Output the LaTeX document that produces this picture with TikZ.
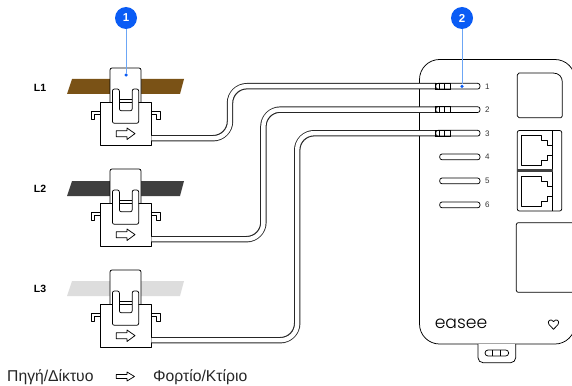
\documentclass[tikz,border=0pt]{standalone}
\usepackage{fontspec}
\setmainfont{Liberation Sans}
\newfontfamily\logofont{Poppins Light}
\tikzset{
  ln/.style={draw=black,line width=0.75pt,fill=white,line join=round},
  lnr/.style={ln,rounded corners=2pt},
  cableo/.style={line width=6.4pt,draw=black!85,rounded corners=17pt},
  cablei/.style={line width=4.4pt,draw=white,rounded corners=16.5pt},
  badge/.style={circle,fill=callblue,inner sep=0pt,minimum size=22pt,text=white,font=\bfseries\fontsize{11.5}{12}\selectfont},
  callline/.style={draw=calllight,line width=1pt},
  calldot/.style={circle,fill=callblue,inner sep=0pt,minimum size=3.5pt},
  phase/.style={font=\bfseries\fontsize{10.5}{11}\selectfont},
  portnum/.style={font=\fontsize{8}{9}\selectfont,text=black!80},
  caption/.style={font=\fontsize{15.7}{16}\selectfont,text=black!85,anchor=west,inner sep=0pt}
}
\definecolor{callblue}{HTML}{0A5CF5}
\definecolor{calllight}{HTML}{6CA6F5}
\definecolor{barA}{HTML}{7A5216}
\definecolor{barB}{HTML}{3F3F3F}
\definecolor{barC}{HTML}{DDDDDD}
\begin{document}
\begin{tikzpicture}[x=1pt,y=-1pt]
\useasboundingbox (0,0) rectangle (572,385);
\fill[white] (0,0) rectangle (572,385);
\clip (0,0) rectangle (572,385);
% bars
\fill[barA] (72,79) -- (184,79) -- (180,94) -- (67,94) -- cycle;
\fill[barB] (72,181) -- (184,181) -- (180,196) -- (67,196) -- cycle;
\fill[barC] (72,281) -- (184,281) -- (180,296) -- (67,296) -- cycle;
% clamps
\foreach \dy/\n in {0/1,101/2,202/3}{
\begin{scope}[yshift=-\dy pt]
  \path[lnr] (110,103) -- (110,68) -- (141,68) -- (141,103);
  \draw[ln] (91.3,119.3) -- (91.3,111.2) -- (100,111.2) -- (100,114.4) -- (94.7,114.4) -- (94.7,119.3) -- cycle;
  \draw[ln] (160,119.3) -- (160,111.2) -- (151.3,111.2) -- (151.3,114.4) -- (156.6,114.4) -- (156.6,119.3) -- cycle;
  \path[ln] (100,102.2) rectangle (151.3,145.5);
  \draw[ln] (119.4,99.3) -- (132.2,99.3);
  \path[lnr] (112.4,123.3) -- (112.4,89) -- (119.4,89) -- (119.4,110.8) -- (132.2,110.8) -- (132.2,89) -- (138.7,89) -- (138.7,123.3) -- cycle;
  \draw[ln] (116.3,130.7) -- (127,130.7) -- (127,128) -- (135,133.6) -- (127,139.5) -- (127,136.8) -- (116.3,136.8) -- cycle;
  \coordinate (cs\n) at (151.3,138.2);
\end{scope}}
% device
\draw[ln,rounded corners=20pt,fill=white] (419.5,100) -- (419.5,59.5) -- (575,59.5) -- (575,344) -- (419.5,344) -- cycle;
\draw[ln,rounded corners=5pt] (478,344) -- (478,362.7) -- (515.7,362.7) -- (515.7,344);
\draw[ln,rounded corners=3pt] (485,350) rectangle (508.7,356);
\draw[line width=0.75pt] (492.7,350) -- (492.7,356) (500.7,350) -- (500.7,356);
% top square
\draw[ln] (519,73) -- (553,73) .. controls (559,73) and (562.3,77) .. (562.3,82) -- (562.3,116) -- (561,117.7) -- (519,117.7) -- (517.3,116) -- (517.3,75) -- cycle;
% RJ45
\draw[lnr] (517.3,130.5) rectangle (561.7,211);
\draw[line width=0.75pt] (552.7,130.5) -- (552.7,211);
\fill[black!75] (517.3,169) rectangle (552.7,172);
\foreach \jy in {0,41.3}{
\begin{scope}[yshift=-\jy pt]
 \draw[line width=0.75pt,line join=round] (552.7,145) -- (547,145) -- (547,140.5) -- (541.5,140.5) -- (541.5,135) -- (521.5,135) -- (521.5,165) -- (541.5,165) -- (541.5,160) -- (547,160) -- (547,155.5) -- (552.7,155.5);
\end{scope}}
% lower panel
\draw[lnr] (576,222.7) -- (516.3,222.7) -- (516.3,292.3) -- (576,292.3);
% terminals
\foreach \ty/\n/\tx in {83.3/1/435.7,106.7/2/435.7,130.3/3/435.7,154/4/439.7,178/5/439.7,202/6/439.7}{
  \draw[ln,rounded corners=2.4pt] (\tx,\ty) rectangle (480,\ty+5.8);
  \node[portnum] (p\n) at (487.3,\ty+3) {\n};
}
\coordinate (t1) at (436,86.2);
\coordinate (t2) at (436,109.6);
\coordinate (t3) at (436,133.2);
% cables
\draw[cableo] (cs1) -- (230,138.2) -- (230,86.2) -- (t1);
\draw[cablei] (cs1) -- (230,138.2) -- (230,86.2) -- (t1);
\draw[cableo] (cs2) -- (263.4,239.2) -- (263.4,109.6) -- (t2);
\draw[cablei] (cs2) -- (263.4,239.2) -- (263.4,109.6) -- (t2);
\draw[cableo] (cs3) -- (297.2,340.2) -- (297.2,133.2) -- (t3);
\draw[cablei] (cs3) -- (297.2,340.2) -- (297.2,133.2) -- (t3);
\foreach \ty in {83.3,106.7,130.3}{
  \draw[line width=0.75pt] (435.7,\ty) rectangle (450,\ty+5.8);
  \draw[line width=0.75pt] (439.5,\ty) -- (439.5,\ty+5.8) (444.5,\ty) -- (444.5,\ty+5.8);
}
% logo and heart
\node[font=\logofont\fontsize{17.2}{18}\selectfont,inner sep=0pt] (logo) at (461,324) {easee};
\draw[line width=0.75pt,line join=round] (553.5,329.3) -- (549,324.6) .. controls (546.5,321) and (551,317.8) .. (553.5,321.6) .. controls (556,317.8) and (560.5,321) .. (558,324.6) -- cycle;
% callouts
\node[badge] (b1) at (126,18) {1};
\node[badge] (b2) at (462,18) {2};
\node[calldot] (d1) at (126,75) {};
\node[calldot] (d2) at (462,86.3) {};
\draw[callline] (b1) -- (d1);
\draw[callline] (b2) -- (d2);
% labels
\node[phase] (l1) at (40,88) {L1};
\node[phase] (l2) at (40,189) {L2};
\node[phase] (l3) at (40,289) {L3};
\node[caption] (c1) at (7,377) {Πηγή/Δίκτυο};
\node[caption] (c2) at (153,377) {Φορτίο/Κτίριο};
\draw[line width=0.75pt,line join=round] (116.3,374.5) -- (127,374.5) -- (127,372) -- (134.5,376.5) -- (127,381) -- (127,378.5) -- (116.3,378.5) -- cycle;
\end{tikzpicture}
\end{document}
